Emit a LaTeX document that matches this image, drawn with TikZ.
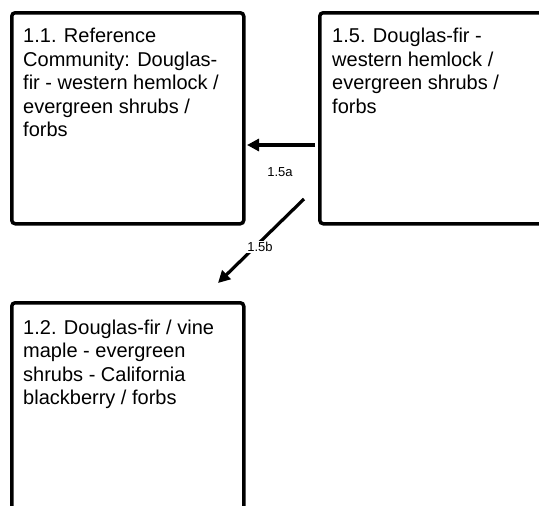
\documentclass[tikz,border=0pt]{standalone}
\usepackage{fontspec}
\setmainfont{Liberation Sans}
\usetikzlibrary{arrows.meta}
\begin{document}
\begin{tikzpicture}[x=1pt,y=-1pt,
  box/.style={draw=black, line width=3.5pt, rounded corners=3.5pt, minimum width=232pt, minimum height=211pt, anchor=north west, inner sep=0pt},
  txt/.style={anchor=north west, inner sep=0pt, align=left, font=\fontsize{20}{23.5}\selectfont},
  lbl/.style={font=\fontsize{13}{15}\selectfont, inner sep=1.5pt, fill=white},
  arr/.style={line width=3.2pt, -{Triangle[length=12pt,width=12pt]}}]
\useasboundingbox (0,0) rectangle (539,506);
\clip (0,0) rectangle (539,506);
\node[box] (n11) at (10,11) {};
\node[box, minimum width=240pt] (n15) at (318,11) {};
\node[box, minimum height=220pt] (n12) at (10,301) {};
\node[txt] (t11) at (23,28) {1.1. Reference\\Community: Douglas-\\fir - western hemlock /\\evergreen shrubs /\\forbs};
\node[txt] (t15) at (332,28) {1.5. Douglas-fir -\\western hemlock /\\evergreen shrubs /\\forbs};
\node[txt] (t12) at (23,319.5) {1.2. Douglas-fir / vine\\maple - evergreen\\shrubs - California\\blackberry / forbs};
\coordinate (a1) at (315,145);
\coordinate (a2) at (247,145);
\coordinate (b1) at (304,199);
\coordinate (b2) at (218,283);
\draw[arr] (a1) -- (a2);
\node[lbl, fill=none] (l1) at (280,172.5) {1.5a};
\draw[arr] (b1) -- (b2);
\node[lbl] (l2) at (260,247) {1.5b};
\end{tikzpicture}
\end{document}
